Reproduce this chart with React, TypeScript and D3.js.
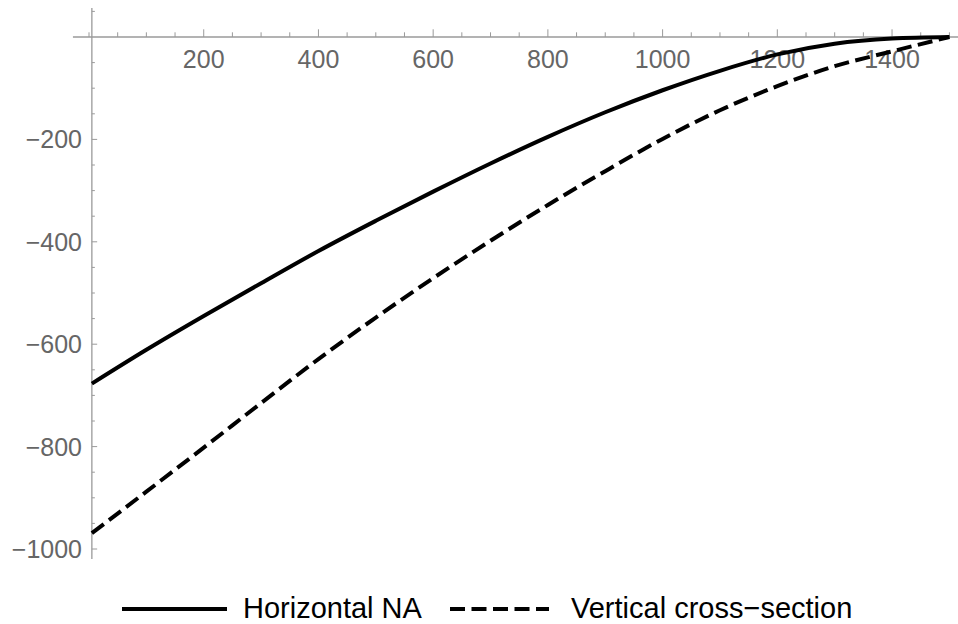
import React from "react";
import * as d3 from "d3";

// readings
const xValues = [5, 100, 200, 300, 400, 500, 600, 700, 800, 900, 1000, 1100, 1200, 1300, 1400, 1500];
const horizontalNA = [-677, -611, -545, -481, -418, -359, -302, -247, -195, -147, -104, -66, -34, -13, -3, 0];
const verticalCrossSection = [-969, -888, -802, -715, -629, -548, -471, -398, -328, -262, -199, -143, -96, -57, -28, 0];

const xMajorTicks = [200, 400, 600, 800, 1000, 1200, 1400];
const yMajorTicks = [-200, -400, -600, -800, -1000];
const legendLabels = ["Horizontal NA", "Vertical cross\u2212section"];

const W = 958;
const H = 624;
const FONT = "'Liberation Sans', Arial, sans-serif";
const AXIS = "#9a9a9a";
const LABEL = "#666666";
const DASH = "15,6.5";

const App = () => {
  const x = d3.scaleLinear().domain([0, 1500]).range([89, 949.4]);
  const y = d3.scaleLinear().domain([0, -1000]).range([37, 549]);

  const xMinor = d3.range(0, 1501, 50).filter((v) => !xMajorTicks.includes(v));
  const yMinor = d3.range(50, -1001, -50).filter((v) => v !== 0 && !yMajorTicks.includes(v));

  const line = d3
    .line<[number, number]>()
    .x((d) => x(d[0]))
    .y((d) => y(d[1]))
    .curve(d3.curveMonotoneX);

  const solid = line(xValues.map((v, i) => [v, horizontalNA[i]]));
  const dashed = line(xValues.map((v, i) => [v, verticalCrossSection[i]]));

  const axisX = x(5);
  const axisY = y(0);

  return (
    <div style={{ position: "absolute", left: 0, top: 0 }}>
      <svg width={W} height={H} style={{ display: "block" }}>
        <rect width={W} height={H} fill="white" />

        {/* x axis */}
        <line x1={x(-28)} x2={W} y1={axisY} y2={axisY} stroke={AXIS} strokeWidth={1.3} />
        {xMinor.map((v) => (
          <line key={"xm" + v} x1={x(v)} x2={x(v)} y1={axisY} y2={axisY - 4.7} stroke={AXIS} strokeWidth={1} />
        ))}
        {xMajorTicks.map((v) => (
          <g key={"xM" + v}>
            <line x1={x(v)} x2={x(v)} y1={axisY} y2={axisY - 7.7} stroke={AXIS} strokeWidth={1} />
            <text x={x(v)} y={68} textAnchor="middle" fontFamily={FONT} fontSize={25} fill={LABEL}>
              {v}
            </text>
          </g>
        ))}

        {/* y axis */}
        <line x1={axisX} x2={axisX} y1={8} y2={559} stroke={AXIS} strokeWidth={1.3} />
        {yMinor.map((v) => (
          <line key={"ym" + v} x1={axisX} x2={axisX + 3} y1={y(v)} y2={y(v)} stroke={AXIS} strokeWidth={1} />
        ))}
        {yMajorTicks.map((v) => (
          <g key={"yM" + v}>
            <line x1={axisX} x2={axisX + 5.3} y1={y(v)} y2={y(v)} stroke={AXIS} strokeWidth={1} />
            <text
              x={82}
              y={y(v)}
              textAnchor="end"
              dominantBaseline="central"
              fontFamily={FONT}
              fontSize={25}
              fill={LABEL}
            >
              {d3.format("d")(v).replace("-", "\u2212")}
            </text>
          </g>
        ))}

        {/* curves */}
        <path d={solid ?? ""} fill="none" stroke="black" strokeWidth={4} />
        <path d={dashed ?? ""} fill="none" stroke="black" strokeWidth={4} strokeDasharray={DASH} />

        {/* legend */}
        <line x1={122} x2={227} y1={609} y2={609} stroke="black" strokeWidth={4} />
        <text x={243} y={618} fontFamily={FONT} fontSize={29} fill="black">
          {legendLabels[0]}
        </text>
        <line x1={450} x2={549} y1={609} y2={609} stroke="black" strokeWidth={4} strokeDasharray={DASH} />
        <text x={571} y={618} fontFamily={FONT} fontSize={29} fill="black">
          {legendLabels[1]}
        </text>
      </svg>
    </div>
  );
};

export default App;
